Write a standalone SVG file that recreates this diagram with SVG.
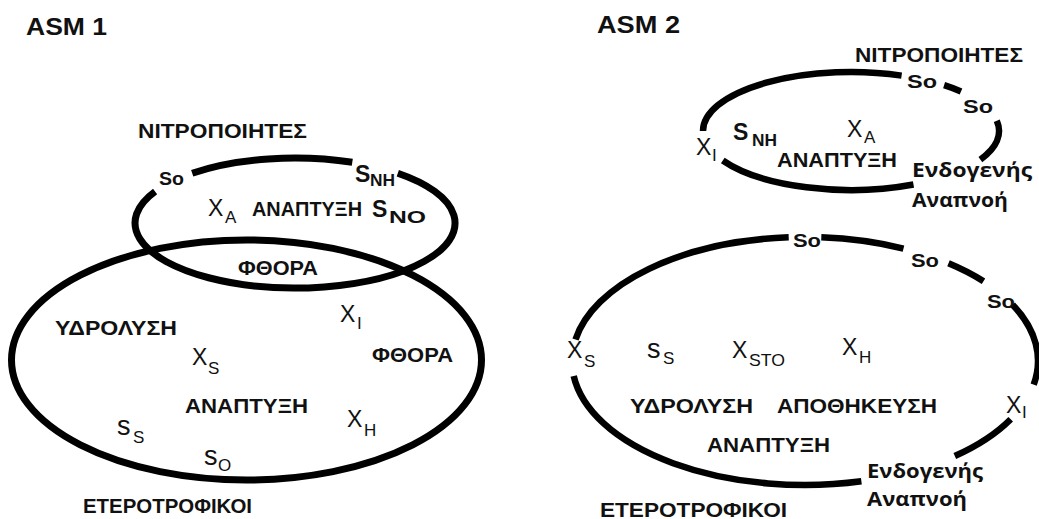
<svg xmlns="http://www.w3.org/2000/svg" width="1039" height="519" viewBox="0 0 1039 519">
  <style>
    .ring { fill: none; stroke: #000; stroke-width: 7; stroke-linecap: butt; }
    .ring2 { fill: none; stroke: #000; stroke-width: 6.5; stroke-linecap: butt; }
    text { font-family: "Liberation Sans", Arial, sans-serif; fill: #111; }
    .title { font-size: 23px; font-weight: bold; }
    .cap { font-size: 20px; font-weight: bold; }
    .so { font-size: 18px; font-weight: bold; }
    .so2 { font-size: 19px; font-weight: bold; }
    .v { font-size: 23px; }
    .sub { font-size: 17px; }
    .big { font-size: 27px; }
    .ev { font-family: "Open Sans", "Noto Sans", sans-serif; font-size: 19px; font-weight: bold; }
  </style>
  <rect width="1039" height="519" fill="#fff"/>

  <!-- ASM 1 -->
  <text class="title" x="26" y="35" textLength="81" lengthAdjust="spacingAndGlyphs">ASM 1</text>

  <g id="asm1-heterotrophs">
    <ellipse class="ring" cx="246.5" cy="360" rx="235" ry="120" stroke-width="7.5"/>
    <text class="cap" x="55" y="335" textLength="122" lengthAdjust="spacingAndGlyphs">ΥΔΡΟΛΥΣΗ</text>
    <text class="v" x="340" y="322">X<tspan class="sub" x="357" y="329">I</tspan></text>
    <text class="cap" x="372" y="362" textLength="81" lengthAdjust="spacingAndGlyphs">ΦΘΟΡΑ</text>
    <text class="v" x="192" y="365">X<tspan class="sub" x="208" y="374">S</tspan></text>
    <text class="cap" x="185" y="413" textLength="123" lengthAdjust="spacingAndGlyphs">ΑΝΑΠΤΥΞΗ</text>
    <text class="v" x="347" y="427">X<tspan class="sub" x="364" y="436">H</tspan></text>
    <text class="big" x="117" y="435">s<tspan class="sub" x="133" y="443">S</tspan></text>
    <text class="big" x="204" y="465">s<tspan class="sub" x="218" y="471">O</tspan></text>
    <text class="cap" x="83" y="513" textLength="169" lengthAdjust="spacingAndGlyphs">ΕΤΕΡΟΤΡΟΦΙΚΟΙ</text>
  </g>

  <g id="asm1-nitrifiers">
    <path class="ring" d="M397.8,173.2 A160,65 0 1 1 155.1,191.5"/>
    <path class="ring" d="M192.2,173.2 A160,65 0 0 1 352.3,162.3"/>
    <text class="cap" x="138" y="138" textLength="169" lengthAdjust="spacingAndGlyphs">ΝΙΤΡΟΠΟΙΗΤΕΣ</text>
    <text class="so" x="159" y="185" textLength="25" lengthAdjust="spacingAndGlyphs">So</text>
    <text class="v" x="355" y="182" font-weight="bold">S<tspan class="sub" x="370" y="186" textLength="25" lengthAdjust="spacingAndGlyphs">NH</tspan></text>
    <text class="v" x="208" y="216">X<tspan class="sub" x="225" y="223">A</tspan></text>
    <text class="cap" x="252" y="216" textLength="110" lengthAdjust="spacingAndGlyphs">ΑΝΑΠΤΥΞΗ</text>
    <text class="v" x="372" y="217" font-weight="bold">S<tspan class="sub" x="389" y="223" textLength="37" lengthAdjust="spacingAndGlyphs">NO</tspan></text>
    <text class="cap" x="238" y="275" textLength="80" lengthAdjust="spacingAndGlyphs">ΦΘΟΡΑ</text>
  </g>

  <!-- ASM 2 -->
  <text class="title" x="597" y="33" textLength="83" lengthAdjust="spacingAndGlyphs">ASM 2</text>

  <g id="asm2-nitrifiers">
    <path class="ring2" d="M703,131 A148,59 0 0 1 901.6,75.6"/>
    <path class="ring2" d="M944.1,85.2 A148,59 0 0 1 961,91.5"/>
    <path class="ring2" d="M996.8,120.8 A148,59 0 0 1 980.4,159.6"/>
    <path class="ring2" d="M913.5,184.5 A148,59 0 0 1 722.8,160.5"/>
    <text class="cap" x="855" y="62" textLength="168" lengthAdjust="spacingAndGlyphs">ΝΙΤΡΟΠΟΙΗΤΕΣ</text>
    <text class="so2" x="907" y="88" textLength="30" lengthAdjust="spacingAndGlyphs">So</text>
    <text class="so2" x="963" y="113" textLength="30" lengthAdjust="spacingAndGlyphs">So</text>
    <text class="v" x="696" y="155" font-size="21">X<tspan class="sub" x="712" y="161" font-size="15">I</tspan></text>
    <text class="v" x="733" y="140" font-weight="bold">S<tspan class="sub" x="752" y="146" textLength="25" lengthAdjust="spacingAndGlyphs">NH</tspan></text>
    <text class="v" x="847" y="137">X<tspan class="sub" x="864" y="143">A</tspan></text>
    <text class="cap" x="777" y="167" textLength="120" lengthAdjust="spacingAndGlyphs">ΑΝΑΠΤΥΞΗ</text>
    <text class="ev" x="912" y="177" textLength="120" lengthAdjust="spacingAndGlyphs">Ενδογενής</text>
    <text class="ev" x="912" y="207" textLength="96" lengthAdjust="spacingAndGlyphs">Αναπνοή</text>
  </g>

  <g id="asm2-heterotrophs">
    <path class="ring2" d="M575.5,339.5 A233,124 0 0 1 788.7,237.3"/>
    <path class="ring2" d="M821.3,237.3 A233,124 0 0 1 903.5,248.6"/>
    <path class="ring2" d="M948.5,263.3 A233,124 0 0 1 983.5,281.3"/>
    <path class="ring2" d="M1012.6,304.7 A233,124 0 0 1 1033.7,384.7"/>
    <path class="ring2" d="M1010.7,419.2 A233,124 0 0 1 954.8,456"/>
    <path class="ring2" d="M861.4,481.3 A233,124 0 0 1 573.7,376.1"/>
    <text class="so2" x="793" y="247" textLength="28" lengthAdjust="spacingAndGlyphs">So</text>
    <text class="so2" x="911" y="267" textLength="28" lengthAdjust="spacingAndGlyphs">So</text>
    <text class="so2" x="987" y="308" textLength="28" lengthAdjust="spacingAndGlyphs">So</text>
    <text class="v" x="567" y="358">X<tspan class="sub" x="584" y="367">S</tspan></text>
    <text class="big" x="647" y="358">s<tspan class="sub" x="663" y="364">S</tspan></text>
    <text class="v" x="732" y="358">X<tspan class="sub" x="749" y="366" textLength="36" lengthAdjust="spacingAndGlyphs">STO</tspan></text>
    <text class="v" x="842" y="355">X<tspan class="sub" x="859" y="363">H</tspan></text>
    <text class="cap" x="630" y="413" textLength="123" lengthAdjust="spacingAndGlyphs">ΥΔΡΟΛΥΣΗ</text>
    <text class="cap" x="777" y="413" textLength="160" lengthAdjust="spacingAndGlyphs">ΑΠΟΘΗΚΕΥΣΗ</text>
    <text class="v" x="1006" y="413">X<tspan class="sub" x="1022" y="418" font-size="15">I</tspan></text>
    <text class="cap" x="707" y="452" textLength="123" lengthAdjust="spacingAndGlyphs">ΑΝΑΠΤΥΞΗ</text>
    <text class="ev" x="867" y="478" textLength="116" lengthAdjust="spacingAndGlyphs">Ενδογενής</text>
    <text class="ev" x="867" y="506" textLength="100" lengthAdjust="spacingAndGlyphs">Αναπνοή</text>
    <text class="cap" x="600" y="517" textLength="187" lengthAdjust="spacingAndGlyphs">ΕΤΕΡΟΤΡΟΦΙΚΟΙ</text>
  </g>
</svg>
